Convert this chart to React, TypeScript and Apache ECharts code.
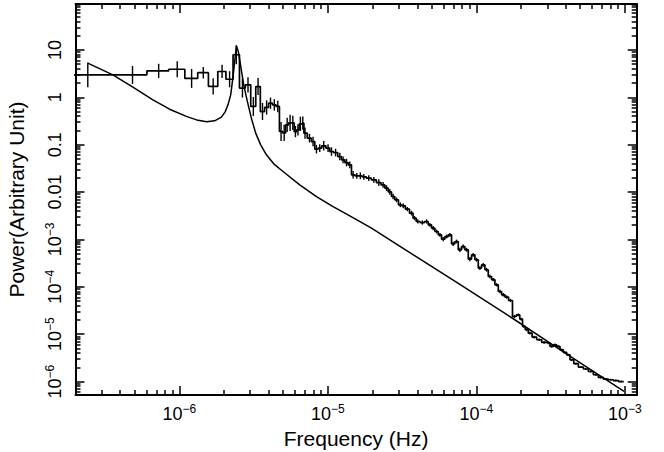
import { useEffect, useRef } from 'react';
import * as echarts from 'echarts';

// ---- data ----
const freq = [
  2.42e-7, 4.84e-7, 7.26e-7, 9.68e-7, 1.21e-6, 1.45e-6, 1.69e-6, 1.94e-6, 2.18e-6, 2.42e-6,
  2.66e-6, 2.90e-6, 3.15e-6, 3.39e-6, 3.63e-6, 3.87e-6, 4.11e-6, 4.36e-6, 4.60e-6, 4.84e-6,
  5.08e-6, 5.32e-6, 5.57e-6, 5.81e-6, 6.05e-6, 6.29e-6, 6.53e-6, 6.78e-6, 7.02e-6,
  7.52e-6, 7.95e-6, 8.38e-6, 8.82e-6, 9.38e-6, 1.003e-5, 1.058e-5, 1.127e-5, 1.203e-5, 1.266e-5,
  1.335e-5, 1.405e-5, 1.479e-5, 1.566e-5, 1.654e-5, 1.746e-5, 1.886e-5, 2.039e-5, 2.203e-5, 2.355e-5,
  2.483e-5, 2.613e-5, 2.75e-5, 2.9e-5, 3.075e-5, 3.222e-5, 3.428e-5, 3.659e-5, 3.833e-5, 4.034e-5,
  4.326e-5, 4.618e-5, 4.861e-5, 5.116e-5, 5.393e-5, 5.677e-5, 5.975e-5, 6.298e-5, 6.628e-5, 6.977e-5,
  7.355e-5, 7.741e-5, 8.147e-5, 8.59e-5, 9.04e-5, 9.515e-5, 1.003e-4, 1.056e-4, 1.111e-4, 1.171e-4,
  1.233e-4, 1.298e-4, 1.368e-4, 1.44e-4, 1.516e-4, 1.598e-4, 1.695e-4, 1.804e-4, 1.913e-4, 2.004e-4,
  2.084e-4, 2.18e-4, 2.294e-4, 2.448e-4, 2.646e-4, 2.859e-4, 3.047e-4, 3.212e-4, 3.381e-4, 3.558e-4,
  3.751e-4, 3.949e-4, 4.156e-4, 4.381e-4, 4.669e-4, 5.047e-4, 5.454e-4, 5.892e-4, 6.368e-4, 6.88e-4,
  7.435e-4, 8.035e-4, 8.684e-4, 9.44e-4,
];

const power = [
  2.97, 2.97, 3.6, 3.9, 2.5, 3.3, 1.7, 3.5, 2.4, 7.9,
  1.56, 1.83, 0.64, 1.68, 0.5, 0.61, 0.75, 0.69, 0.64, 0.19,
  0.177, 0.262, 0.288, 0.288, 0.189, 0.205, 0.275, 0.284, 0.175,
  0.137, 0.116, 0.0804, 0.0843, 0.0944, 0.0843, 0.0715, 0.0681, 0.0561, 0.0478,
  0.0419, 0.0375, 0.0231, 0.022, 0.022, 0.0209, 0.0196, 0.0181, 0.0158, 0.0142,
  0.0121, 0.0101, 0.00804, 0.00684, 0.00537, 0.00512, 0.00436, 0.00359, 0.00281, 0.00239,
  0.00227, 0.00239, 0.00203, 0.00173, 0.00147, 0.00125, 0.00101, 0.00115, 0.00125, 8.07e-4,
  9.03e-4, 6.04e-4, 7.08e-4, 6.04e-4, 3.84e-4, 4.73e-4, 3.72e-4, 2.48e-4, 2.91e-4, 2.29e-4,
  1.65e-4, 1.41e-4, 1.10e-4, 7.96e-5, 6.78e-5, 6.07e-5, 5.14e-5, 2.36e-5, 2.56e-5, 2.08e-5,
  1.46e-5, 1.24e-5, 1.05e-5, 8.69e-6, 7.62e-6, 6.68e-6, 6.49e-6, 5.51e-6, 5.97e-6, 5.51e-6,
  4.69e-6, 4.11e-6, 3.67e-6, 2.88e-6, 2.38e-6, 2.02e-6, 1.84e-6, 1.63e-6, 1.39e-6, 1.22e-6,
  1.13e-6, 1.09e-6, 1.05e-6, 1.0e-6,
];

// half-length of each error bar, in decades
const errDex = [
  0.26, 0.19, 0.15, 0.17, 0.2, 0.12, 0.17, 0.14, 0.17, 0.2,
  0.2, 0.16, 0.2, 0.18, 0.18, 0.15, 0.12, 0.12, 0.12, 0.2,
  0.17, 0.15, 0.17, 0.15, 0.12, 0.12, 0.15, 0.14, 0.12,
  0.09, 0.1, 0.09, 0.08, 0.1, 0.08, 0.09, 0.08, 0.08, 0.07,
  0.08, 0.07, 0.08, 0.06, 0.07, 0.06, 0.06, 0.06, 0.07, 0.06,
  0.06, 0.06, 0.06, 0.05, 0.05, 0.05, 0.045, 0.05, 0.045, 0.045,
  0.045, 0.045, 0.04, 0.045, 0.04, 0.04, 0.045, 0.04, 0.04, 0.045,
  0.04, 0.045, 0.04, 0.04, 0.045, 0.04, 0.04, 0.04, 0.04, 0.04,
  0.035, 0.035, 0.035, 0.035, 0.035, 0.035, 0.035, 0.035, 0.03, 0.03,
  0.03, 0.03, 0.03, 0.03, 0.025, 0.025, 0.025, 0.025, 0.025, 0.025,
  0.025, 0.02, 0.02, 0.02, 0.02, 0.02, 0.02, 0.02, 0.02, 0.02,
  0.02, 0.02, 0.02, 0.02,
];

// best-fit model (power law + Lorentzian QPO)
const modelFreq = [
  2.42e-7, 3.57e-7, 4.87e-7, 6.64e-7, 8.6e-7, 1.115e-6, 1.308e-6, 1.528e-6, 1.729e-6, 1.92e-6,
  2.035e-6, 2.126e-6, 2.217e-6, 2.276e-6, 2.333e-6, 2.385e-6, 2.426e-6, 2.498e-6, 2.588e-6, 2.713e-6,
  2.872e-6, 3.056e-6, 3.267e-6, 3.53e-6, 3.858e-6, 4.32e-6, 4.99e-6, 6.466e-6, 8.38e-6, 1.084e-5,
  1.405e-5, 1.967e-5, 3.06e-5, 7.74e-5, 1.73e-4, 3.65e-4, 9.86e-4,
];
const modelPower = [
  5.24, 2.97, 1.63, 0.88, 0.56, 0.395, 0.333, 0.303, 0.318, 0.38,
  0.492, 0.692, 1.125, 2.11, 4.11, 7.85, 12.1, 9.07, 4.59, 1.83,
  0.811, 0.362, 0.175, 0.0991, 0.061, 0.0394, 0.0271, 0.0142, 0.00803, 0.00494,
  0.00315, 0.00173, 7.14e-4, 1.12e-4, 2.22e-5, 4.69e-6, 6.18e-7,
];

// tick labels
const xTickExp = [-6, -5, -4, -3];
const yTickExp = [-6, -5, -4, -3, -2, -1, 0, 1];
const yTickLabels = ['10^-6', '10^-5', '10^-4', '10^-3', '0.01', '0.1', '1', '10'];

const X_MIN = 2.0e-7;
const X_MAX = 1.2e-3;
const Y_MIN = 5.2e-7;
const Y_MAX = 93;

const FONT = '"Liberation Sans", Arial, Helvetica, sans-serif';

const lg = Math.log10;

function minorTicks(lo: number, hi: number) {
  const out: number[] = [];
  for (let e = Math.floor(lo) - 1; e <= Math.ceil(hi); e++) {
    for (let k = 2; k <= 9; k++) {
      const v = e + lg(k);
      if (v > lo && v < hi) out.push(v);
    }
  }
  return out;
}

function richLabel(s: string) {
  const m = s.match(/^10\^(-?\d+)$/);
  if (m) return `{b|10}{s|${m[1].replace('-', '\u2212')}}`;
  return `{b|${s}}`;
}

const rich = {
  b: { fontSize: 18, fontFamily: FONT, color: '#000', lineHeight: 20, verticalAlign: 'bottom' },
  s: { fontSize: 12, fontFamily: FONT, color: '#000', lineHeight: 13, verticalAlign: 'top' },
};

export default function App() {
  const ref = useRef<HTMLDivElement>(null);

  useEffect(() => {
    if (!ref.current) return;
    const chart = echarts.init(ref.current, undefined, { renderer: 'svg' });

    const xmin = lg(X_MIN), xmax = lg(X_MAX), ymin = lg(Y_MIN), ymax = lg(Y_MAX);

    // step outline of the binned power spectrum
    const n = freq.length;
    const edges: number[] = [];
    edges.push(freq[0] - (freq[1] - freq[0]) / 2);
    for (let i = 1; i < n; i++) edges.push((freq[i - 1] + freq[i]) / 2);
    edges.push(freq[n - 1] + (freq[n - 1] - freq[n - 2]) / 2);
    const stepData: number[][] = [];
    for (let i = 0; i < n; i++) {
      stepData.push([lg(edges[i]), lg(power[i])]);
      stepData.push([lg(edges[i + 1]), lg(power[i])]);
    }
    const errData = freq.map((f, i) => [lg(f), lg(power[i]) - errDex[i], lg(power[i]) + errDex[i]]);
    const modelData = modelFreq.map((f, i) => [lg(f), lg(modelPower[i])]);

    const xMajor = xTickExp.slice();
    const xMinor = minorTicks(xmin, xmax);
    const yMajor = yTickExp.slice();
    const yMinor = minorTicks(ymin, ymax);

    const lineCol = '#000';
    const tickStyle = { color: lineCol, width: 1.5 };

    const mkX = (pos: 'bottom' | 'top', major: boolean) => ({
      type: 'value',
      position: pos,
      min: xmin,
      max: xmax,
      axisLine: { show: major, onZero: false, lineStyle: { color: lineCol, width: 2 } },
      axisTick: {
        show: true,
        inside: true,
        length: major ? 9 : 5,
        customValues: major ? xMajor : xMinor,
        lineStyle: tickStyle,
      },
      axisLabel:
        pos === 'bottom' && major
          ? {
              show: true,
              customValues: xMajor,
              margin: 8,
              formatter: (v: number) => richLabel('10^' + Math.round(v)),
              rich,
            }
          : { show: false },
      splitLine: { show: false },
      ...(pos === 'bottom' && major
        ? {
            name: 'Frequency (Hz)',
            nameLocation: 'middle',
            nameGap: 31,
            nameTextStyle: { fontSize: 21, fontFamily: FONT, color: '#000' },
          }
        : {}),
    });

    const mkY = (pos: 'left' | 'right', major: boolean) => ({
      type: 'value',
      position: pos,
      min: ymin,
      max: ymax,
      axisLine: { show: major, onZero: false, lineStyle: { color: lineCol, width: 2 } },
      axisTick: {
        show: true,
        inside: true,
        length: major ? 9 : 5,
        customValues: major ? yMajor : yMinor,
        lineStyle: tickStyle,
      },
      axisLabel:
        pos === 'left' && major
          ? {
              show: true,
              customValues: yMajor,
              rotate: 90,
              margin: 12,
              formatter: (v: number) => {
                const idx = yTickExp.indexOf(Math.round(v));
                return richLabel(idx >= 0 ? yTickLabels[idx] : '');
              },
              rich,
            }
          : { show: false },
      splitLine: { show: false },
      ...(pos === 'left' && major
        ? {
            name: 'Power(Arbitrary Unit)',
            nameLocation: 'middle',
            nameRotate: 90,
            nameGap: 49,
            nameTextStyle: { fontSize: 21, fontFamily: FONT, color: '#000' },
          }
        : {}),
    });

    const option: any = {
      animation: false,
      backgroundColor: '#fff',
      grid: { left: 75.5, right: 27.3, top: 4, bottom: 57, containLabel: false, outerBoundsMode: 'none' },
      xAxis: [mkX('bottom', true), mkX('bottom', false), mkX('top', true), mkX('top', false)],
      yAxis: [mkY('left', true), mkY('left', false), mkY('right', true), mkY('right', false)],
      series: [
        {
          type: 'line',
          name: 'data',
          xAxisIndex: 0,
          yAxisIndex: 0,
          data: stepData,
          showSymbol: false,
          symbol: 'none',
          clip: true,
          lineStyle: { color: '#000', width: 1.7 },
          z: 3,
        },
        {
          type: 'custom',
          name: 'errors',
          xAxisIndex: 0,
          yAxisIndex: 0,
          data: errData,
          encode: { x: 0, y: [1, 2] },
          renderItem: (_p: any, api: any) => {
            const x = api.value(0);
            const a = api.coord([x, api.value(1)]);
            const b = api.coord([x, api.value(2)]);
            return {
              type: 'line',
              shape: { x1: a[0], y1: a[1], x2: b[0], y2: b[1] },
              style: { stroke: '#000', lineWidth: 1.4 },
            };
          },
          z: 3,
        },
        {
          type: 'line',
          name: 'model',
          xAxisIndex: 0,
          yAxisIndex: 0,
          data: modelData,
          showSymbol: false,
          symbol: 'none',
          smooth: false,
          clip: true,
          lineStyle: { color: '#000', width: 1.5, join: 'round' },
          z: 2,
        },
      ],
    };

    chart.setOption(option);
    return () => chart.dispose();
  }, []);

  return (
    <div
      ref={ref}
      style={{ position: 'fixed', left: 0, top: 0, width: 664, height: 452, background: '#fff' }}
    />
  );
}
